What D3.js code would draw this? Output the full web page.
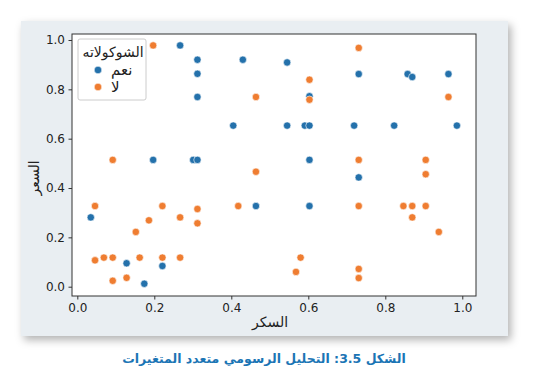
<!DOCTYPE html>
<html>
<head>
<meta charset="utf-8">
<script src="https://cdn.jsdelivr.net/npm/d3@7"></script>
<style>
  body { margin: 0; background: #fff; }
  svg text { font-family: "DejaVu Sans", sans-serif; }
  .axis path, .axis line { stroke: #333; }
  .axis text { font-size: 12px; fill: #222; }
</style>
</head>
<body>
<script>
// values
var sugar = [0.267, 0.312, 0.430, 0.545, 0.312, 0.731, 0.858, 0.870, 0.964, 0.312,
             0.603, 0.405, 0.545, 0.591, 0.603, 0.719, 0.823, 0.986, 0.197, 0.301,
             0.312, 0.603, 0.731, 0.464, 0.603, 0.035, 0.128, 0.221, 0.174,
             0.197, 0.731, 0.603, 0.464, 0.603, 0.964, 0.092, 0.731, 0.905, 0.464,
             0.905, 0.046, 0.221, 0.418, 0.731, 0.847, 0.870, 0.905, 0.312, 0.186,
             0.267, 0.312, 0.870, 0.152, 0.939, 0.046, 0.069, 0.092, 0.162, 0.221,
             0.267, 0.580, 0.568, 0.731, 0.731, 0.092, 0.128];
var price = [0.978, 0.920, 0.920, 0.909, 0.863, 0.862, 0.862, 0.850, 0.862, 0.769,
             0.772, 0.653, 0.653, 0.653, 0.653, 0.653, 0.653, 0.653, 0.514, 0.514,
             0.514, 0.514, 0.443, 0.327, 0.327, 0.281, 0.095, 0.084, 0.012,
             0.978, 0.968, 0.839, 0.769, 0.758, 0.769, 0.514, 0.514, 0.514, 0.466,
             0.456, 0.327, 0.327, 0.327, 0.327, 0.327, 0.327, 0.327, 0.315, 0.269,
             0.281, 0.257, 0.281, 0.222, 0.222, 0.107, 0.118, 0.118, 0.118, 0.118,
             0.118, 0.118, 0.060, 0.072, 0.035, 0.024, 0.036];
var chocolate = d3.range(66).map(function(i) { return i < 29 ? "نعم" : "لا"; });

var groups = ["نعم", "لا"];
var xTicks = [0.0, 0.2, 0.4, 0.6, 0.8, 1.0];
var yTicks = [0.0, 0.2, 0.4, 0.6, 0.8, 1.0];

var data = sugar.map(function(s, i) {
    return {x: s, y: price[i], c: chocolate[i]};
});

var W = 533, H = 389;
var plot = {left: 72, top: 34, right: 476, bottom: 296};

var svg = d3.select("body").append("svg")
    .attr("width", W)
    .attr("height", H);

// shadow under the card
var defs = svg.append("defs");
defs.append("filter")
    .attr("id", "shadow")
    .attr("x", "-10%").attr("y", "-10%")
    .attr("width", "125%").attr("height", "130%")
  .append("feDropShadow")
    .attr("dx", 3).attr("dy", 4)
    .attr("stdDeviation", 4)
    .attr("flood-color", "#000")
    .attr("flood-opacity", 0.3);

svg.append("rect")
    .attr("x", 21).attr("y", 21)
    .attr("width", 487).attr("height", 315)
    .attr("fill", "#e9eef2")
    .attr("filter", "url(#shadow)");

var x = d3.scaleLinear()
    .domain([-0.0138, 1.0356])
    .range([plot.left, plot.right]);

var y = d3.scaleLinear()
    .domain([-0.0377, 1.0243])
    .range([plot.bottom, plot.top]);

var color = d3.scaleOrdinal()
    .domain(groups)
    .range(["#2471ab", "#ef7d31"]);

svg.append("rect")
    .attr("x", plot.left).attr("y", plot.top)
    .attr("width", plot.right - plot.left)
    .attr("height", plot.bottom - plot.top)
    .attr("fill", "#fff");

// axes
svg.append("g")
    .attr("class", "axis")
    .attr("transform", "translate(0," + plot.bottom + ")")
    .call(d3.axisBottom(x).tickValues(xTicks).tickFormat(d3.format(".1f"))
        .tickSize(3.5).tickPadding(3.5).tickSizeOuter(0));

svg.append("g")
    .attr("class", "axis")
    .attr("transform", "translate(" + plot.left + ",0)")
    .call(d3.axisLeft(y).tickValues(yTicks).tickFormat(d3.format(".1f"))
        .tickSize(3.5).tickPadding(3.5).tickSizeOuter(0));

svg.selectAll(".axis .domain").remove();

// the points, "yes" first so the "no" ones sit on top
svg.selectAll(".dot")
    .data(data)
    .enter().append("circle")
    .attr("class", "dot")
    .attr("r", 3.7)
    .attr("cx", function(d) { return x(d.x); })
    .attr("cy", function(d) { return y(d.y); })
    .attr("fill", function(d) { return color(d.c); })
    .attr("stroke", "#fff")
    .attr("stroke-width", 0.6);

// frame
svg.append("rect")
    .attr("x", plot.left).attr("y", plot.top)
    .attr("width", plot.right - plot.left)
    .attr("height", plot.bottom - plot.top)
    .attr("fill", "none")
    .attr("stroke", "#333")
    .attr("stroke-width", 1);

// axis titles
svg.append("text")
    .attr("x", (plot.left + plot.right) / 2 - 4)
    .attr("y", 327)
    .attr("text-anchor", "middle")
    .attr("font-size", 14)
    .attr("fill", "#222")
    .text("السكر");

svg.append("text")
    .attr("transform", "translate(39," + 178 + ") rotate(-90)")
    .attr("text-anchor", "middle")
    .attr("font-size", 14)
    .attr("fill", "#222")
    .text("السعر");

// legend
var legend = svg.append("g");
legend.append("rect")
    .attr("x", 78).attr("y", 39)
    .attr("width", 68).attr("height", 61)
    .attr("rx", 2)
    .attr("fill", "#fff")
    .attr("fill-opacity", 0.85)
    .attr("stroke", "#ccc");

legend.append("text")
    .attr("x", 113).attr("y", 57)
    .attr("text-anchor", "middle")
    .attr("font-size", 14)
    .attr("fill", "#222")
    .text("الشوكولاته");

var item = legend.selectAll(".item")
    .data(groups)
    .enter().append("g")
    .attr("class", "item")
    .attr("transform", function(d, i) { return "translate(0," + (70 + i * 17) + ")"; });

item.append("circle")
    .attr("cx", 98).attr("cy", 0)
    .attr("r", 3.8)
    .attr("fill", function(d) { return color(d); })
    .attr("stroke", "#fff")
    .attr("stroke-width", 0.6);

item.append("text")
    .attr("x", 111).attr("y", 5)
    .attr("font-size", 15)
    .attr("fill", "#222")
    .text(function(d) { return d; });

// caption
svg.append("text")
    .attr("x", 264).attr("y", 363)
    .attr("text-anchor", "middle")
    .attr("direction", "rtl")
    .attr("font-size", 12.5)
    .attr("font-weight", "bold")
    .attr("fill", "#1b75b5")
    .text("الشكل 3.5: التحليل الرسومي متعدد المتغيرات");
</script>
</body>
</html>
